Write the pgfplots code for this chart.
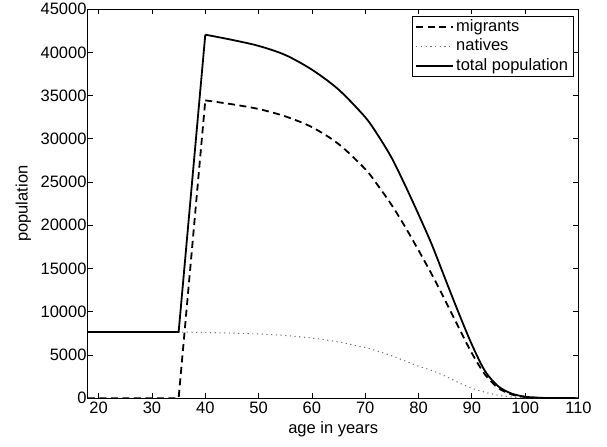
\documentclass[border=0pt]{standalone}
\usepackage{pgfplots}
\usepackage{pgfplotstable}
\pgfplotsset{compat=1.18}
\usepackage{fontspec}
\setmainfont{Liberation Sans}
\pgfplotstableread{
age   M      N     T
18    0      7650  7650
35    0      7650  7650
40    34450  7600  42050
}\early
\pgfplotstableread{
age   M      N     T
40    34450  7600  42050
45    34000  7530  41450
50    33450  7420  40750
55    32600  7250  39700
60    31350  6950  38000
65    29400  6500  35700
70    26500  5850  32500
72.5  24500  5400  30300
75    22300  4900  27750
77.5  19800  4300  24600
80    17100  3700  21250
82.5  14300  3200  17750
85    11300  2550  13800
87.5  8200   1800  9900
90    5200   1150  6200
92.5  2700   680   3100
95    1150   330   1350
97.5  420    130   520
100   130    40    170
102.5 40     8     50
105   12     2     15
110   0      0     0
}\late
\begin{document}
\begin{tikzpicture}
\begin{axis}[
  scale only axis, width=490.5bp, height=389bp,
  xmin=18, xmax=110, ymin=0, ymax=45000,
  xtick={20,30,...,110}, ytick={0,5000,...,45000},
  scaled y ticks=false, scaled x ticks=false,
  /pgf/number format/1000 sep={},
  /pgf/number format/assume math mode=true,
  tick align=inside,
  major tick length=5bp,
  axis line style={line width=1bp},
  every tick/.style={black, line width=0.8bp},
  ticklabel style={font=\fontsize{16.5bp}{19bp}\selectfont},
  yticklabel style={xshift=2bp},
  label style={font=\fontsize{16.5bp}{19bp}\selectfont},
  xlabel={age in years}, ylabel={population},
  xlabel style={at={(axis description cs:0.5,-0.0797)}, anchor=center},
  ylabel style={at={(axis description cs:-0.132,0.5)}, anchor=center},
  legend style={at={(rel axis cs:1,1)}, anchor=north east, xshift=-5bp, yshift=-6.7bp,
    draw=black, line width=0.8bp, font=\fontsize{16.5bp}{19bp}\selectfont,
    inner xsep=3bp, inner ysep=1bp, row sep=0bp,
    nodes={text height=12bp, text depth=3.5bp, inner sep=2bp}},
  legend cell align=left,
  legend image code/.code={\draw[#1] (0bp,0bp) -- (37bp,0bp);},
]
\addplot[black, line width=1.8bp, dash pattern=on 7bp off 4.5bp, forget plot] table[x=age, y=M] {\early};
\addplot[black, line width=1.8bp, dash pattern=on 7bp off 4.5bp, smooth, tension=0.5] table[x=age, y=M] {\late};
\addlegendentry{migrants}
\addplot[black!55, line width=1bp, dash pattern=on 1.2bp off 3.5bp, forget plot] table[x=age, y=N] {\early};
\addplot[black!55, line width=1bp, dash pattern=on 1.2bp off 3.5bp, smooth, tension=0.5] table[x=age, y=N] {\late};
\addlegendentry{natives}
\addplot[black, line width=1.8bp, forget plot] table[x=age, y=T] {\early};
\addplot[black, line width=1.8bp, smooth, tension=0.5] table[x=age, y=T] {\late};
\addlegendentry{total population}
\end{axis}
\path[use as bounding box] (-88bp,-48bp) rectangle (519bp,395bp);
\end{tikzpicture}
\end{document}
